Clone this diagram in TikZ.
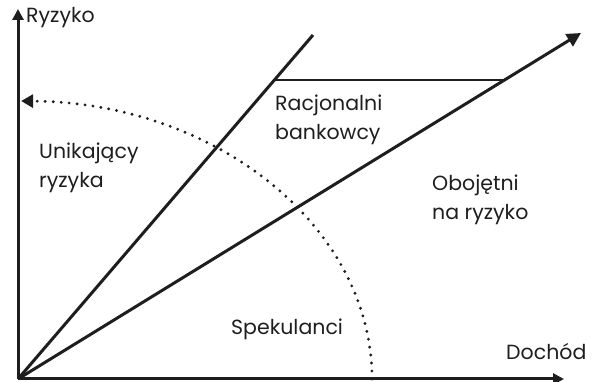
\documentclass[tikz,border=0pt]{standalone}
\usepackage{fontspec}
\setmainfont{Poppins}
\usetikzlibrary{arrows.meta,calc}
\definecolor{ink}{HTML}{1E1E1E}
\tikzset{
  axisline/.style={line width=3pt,draw=ink,-{Triangle[length=11pt,width=11pt]}},
  ray/.style={line width=3pt,draw=ink},
  label/.style={text=ink,font=\fontsize{20.5}{29}\selectfont,align=left,inner sep=0pt},
}
\begin{document}
\begin{tikzpicture}[x=1pt,y=1pt]
  \useasboundingbox (0,0) rectangle (600,382);
  \coordinate (O) at (18,3);
  \coordinate (Ytop) at (18,373);
  \coordinate (Xend) at (564,3);
  \coordinate (S) at (313,347);
  \coordinate (A) at (581,349);
  % axes
  \draw[axisline] (O) -- (Ytop);
  \draw[axisline] (O) -- (Xend);
  % rays from the origin
  \draw[ray] (O) -- (S);
  \draw[ray,-{Triangle[length=14pt,width=14pt]}] (O) -- (A);
  % horizontal bound of the rational region
  \coordinate (H1) at ($(O)!0.869!(S)$);
  \coordinate (H2) at ($(O)!0.864!(A)$);
  \draw[line width=2.4pt,draw=ink] (H1) -- (H2 |- H1);
  % dotted quarter ellipse
  \draw[ink,line width=3.2pt,line cap=round,dash pattern=on 0pt off 8pt,
        -{Triangle[length=12pt,width=13pt,line cap=butt]}]
        (372,3) arc[start angle=0,end angle=89.5,x radius=354,y radius=278];
  % labels
  \node[label,anchor=west] (ry) at (26,364) {Ryzyko};
  \node[label,anchor=west] (do) at (506,30) {Dochód};
  \node[label,anchor=west] (un) at (39,214) {Unikający\\ryzyka};
  \node[label,anchor=west] (rb) at (275,262) {Racjonalni\\bankowcy};
  \node[label,anchor=west] (ob) at (432,182) {Obojętni\\na ryzyko};
  \node[label,anchor=west] (sp) at (231,53) {Spekulanci};
\end{tikzpicture}
\end{document}
